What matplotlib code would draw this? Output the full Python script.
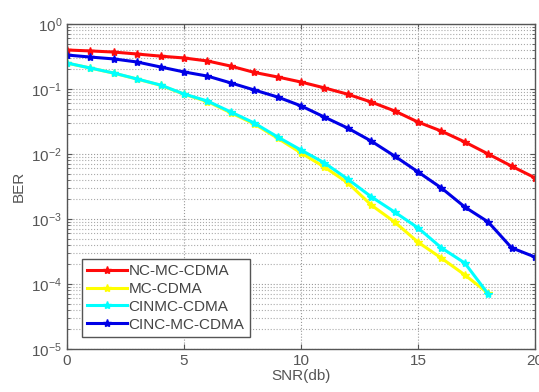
import numpy as np
import matplotlib
matplotlib.use('Agg')
from matplotlib import pyplot as plt

plt.rcParams['font.family'] = ['Liberation Sans', 'DejaVu Sans']

# SNR axis (dB)
snr = list(range(0, 21))
snr_short = list(range(0, 19))

# BER values
ber_nc_mc = [0.398, 0.385, 0.37, 0.345, 0.32, 0.30, 0.27, 0.225, 0.18, 0.153, 0.128,
             0.104, 0.083, 0.063, 0.046, 0.031, 0.0225, 0.0153, 0.010, 0.0065, 0.0043]
ber_mc = [0.25, 0.21, 0.175, 0.142, 0.114, 0.083, 0.064, 0.043, 0.029, 0.0175, 0.0104,
          0.0063, 0.0036, 0.00164, 0.0009, 0.00044, 0.00025, 0.000138, 0.000072]
ber_cinmc = [0.251, 0.21, 0.176, 0.1425, 0.115, 0.0838, 0.0653, 0.0443, 0.030, 0.0183, 0.0115,
             0.0073, 0.0041, 0.0022, 0.00128, 0.00073, 0.00036, 0.00021, 0.00007]
ber_cinc_mc = [0.333, 0.31, 0.29, 0.26, 0.218, 0.183, 0.158, 0.124, 0.0966, 0.0753, 0.055,
               0.037, 0.025, 0.0158, 0.0093, 0.0053, 0.0030, 0.00153, 0.0009, 0.00036, 0.00026]

labels = ['NC-MC-CDMA', 'MC-CDMA', 'CINMC-CDMA', 'CINC-MC-CDMA']
colors = ['#ff0a0a', '#ffff00', '#00ffff', '#0000e6']

fig = plt.figure(figsize=(5.39, 3.92), dpi=100)
ax = fig.add_axes([0.1243, 0.1097, 0.8683, 0.8291])

series = [(snr, ber_nc_mc), (snr_short, ber_mc), (snr_short, ber_cinmc), (snr, ber_cinc_mc)]
for (x, y), lab, c in zip(series, labels, colors):
    ax.semilogy(x, y, '-*', color=c, lw=2.2, ms=6, mec=c, mfc=c, label=lab)

ax.set_xlim(0, 20)
ax.set_ylim(1e-5, 1)
ax.set_xticks([0, 5, 10, 15, 20])
ax.grid(True, which='major', ls=':', color='#999999', lw=0.8)
ax.grid(True, which='minor', axis='y', ls=':', color='#aaaaaa', lw=0.8)
ax.tick_params(which='both', direction='in', top=True, right=True, labelsize=11,
               colors='#555555', labelcolor='#555555')
for s in ax.spines.values():
    s.set_color('#555555')
    s.set_linewidth(1.0)

ax.set_xlabel('SNR(db)', fontsize=11, color='#555555', labelpad=1)
ax.set_ylabel('BER', fontsize=11, color='#555555', labelpad=4)

leg = ax.legend(loc='lower left', bbox_to_anchor=(0.032, 0.037), borderaxespad=0,
                fontsize=11, handlelength=2.6, handletextpad=0.1, labelspacing=0.25,
                borderpad=0.35, numpoints=1, fancybox=False, framealpha=1,
                edgecolor='#555555')
for t in leg.get_texts():
    t.set_color('#444444')

plt.savefig('out.png', dpi=100)
